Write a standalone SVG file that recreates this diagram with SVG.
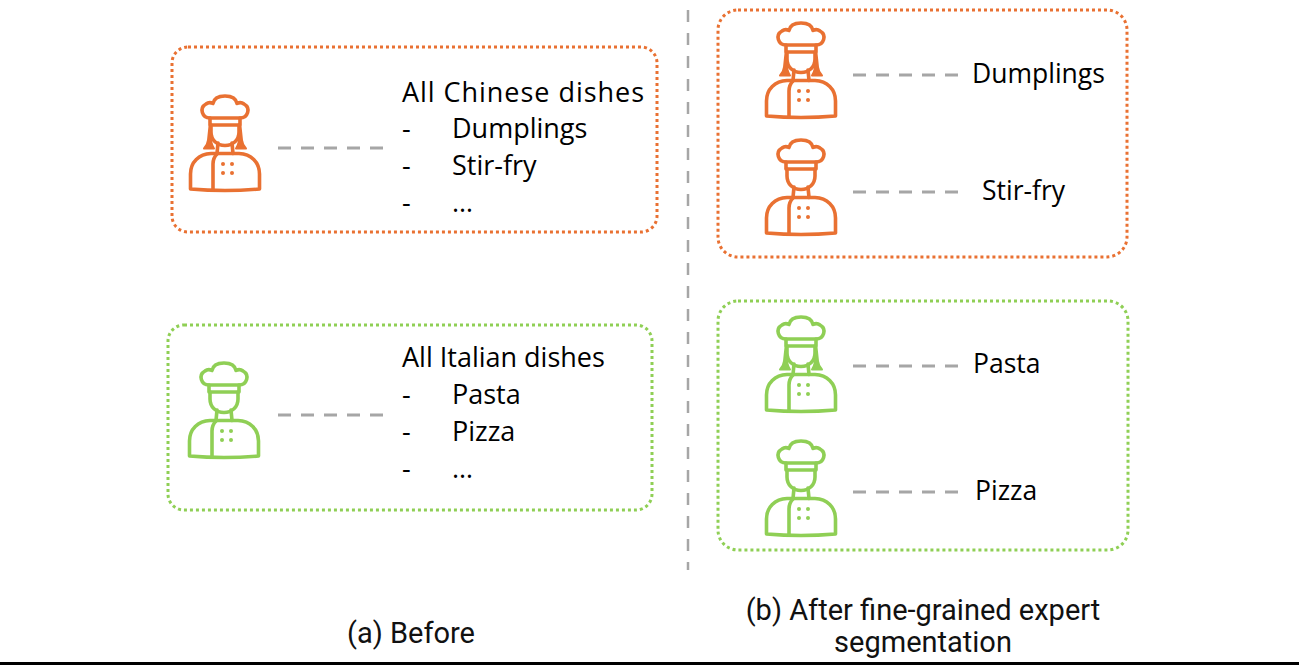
<svg xmlns="http://www.w3.org/2000/svg" xmlns:xlink="http://www.w3.org/1999/xlink" width="1299" height="665" viewBox="0 0 1299 665">
<style>
.box{fill:none;stroke-width:3;stroke-dasharray:3 3;}
.or{stroke:#E97132;}
.gr{stroke:#8FCF55;}
.conn{stroke:#A6A6A6;stroke-width:3;stroke-dasharray:13 10;fill:none;}
.t{font-family:"Open Sans","Noto Sans",sans-serif;font-size:27px;fill:#000;}
.tr{font-family:"Open Sans","Noto Sans",sans-serif;font-size:26.5px;fill:#000;}
.cap{font-family:Roboto,"Liberation Sans",sans-serif;font-size:29px;fill:#111;}
</style>
<defs>
<g id="chef-m" fill="none" stroke="currentColor" stroke-width="3.6" stroke-linejoin="round" stroke-linecap="round">
<path d="M21,22 C13,22 10,12 17,8 C19,6.5 22,6.5 24,7.5 C25,2 30,0 36,0 C42,0 47,2 48,7.5 C50,6.5 53,6.5 55,8 C62,12 59,22 51,22 Z"/>
<path d="M21,22 L21,29 L51,29 L51,22"/>
<path d="M22,29 L22,36 C22,44 28,49.5 36,49.5 C44,49.5 50,44 50,36 L50,29"/>
<path d="M29,47 L28,57.5 M43,47 L44,57.5"/>
<path d="M1.5,93 L1.5,78 C1.5,66 10,58 22,57.5 L50,57.5 C62,58 70.5,66 70.5,78 L70.5,93 Q36,96 1.5,93 Z"/>
<path d="M28,58 C25,61 24,64 24,68 L24,94"/>
<g fill="currentColor" stroke="none">
<circle cx="34" cy="68" r="2"/><circle cx="43" cy="68" r="2"/>
<circle cx="34" cy="77" r="2"/><circle cx="43" cy="77" r="2"/>
</g>
</g>
<g id="chef-f">
<use xlink:href="#chef-m"/>
<path d="M20.5,30 L19,44 C18.5,48 17,50.5 15,52.5 L25,52.5 C22.5,49 21.5,45 21.5,38 Z M51.5,30 L53,44 C53.5,48 55,50.5 57,52.5 L47,52.5 C49.5,49 50.5,45 50.5,38 Z" fill="currentColor" stroke="currentColor" stroke-width="2" stroke-linejoin="round"/>
</g>
</defs>
<rect width="1299" height="665" fill="#fff"/>

<g id="divider">
<line x1="688" y1="10" x2="688" y2="570" stroke="#A6A6A6" stroke-width="2.5" stroke-dasharray="12 11"/>
</g>

<g id="before-chinese">
<rect class="box or" x="172" y="47" width="485" height="185" rx="16"/>
<use xlink:href="#chef-f" x="189" y="96" style="color:#E97132"/>
<text class="t" x="402" y="102" textLength="242">All Chinese dishes</text>
<text class="t" x="402" y="138">-</text><text class="t" x="452" y="138">Dumplings</text>
<text class="t" x="402" y="175">-</text><text class="t" x="452" y="175">Stir-fry</text>
<text class="t" x="402" y="212">-</text><text class="t" x="452" y="212">…</text>
</g>

<g id="before-italian">
<rect class="box gr" x="168" y="325" width="484" height="185" rx="16"/>
<use xlink:href="#chef-m" x="188" y="363" style="color:#8FCF55"/>
<text class="t" x="402" y="367">All Italian dishes</text>
<text class="t" x="402" y="404">-</text><text class="t" x="452" y="404">Pasta</text>
<text class="t" x="402" y="441">-</text><text class="t" x="452" y="441">Pizza</text>
<text class="t" x="402" y="478">-</text><text class="t" x="452" y="478">…</text>
</g>

<g id="after-chinese">
<rect class="box or" x="718" y="10" width="409" height="247" rx="20"/>
<use xlink:href="#chef-f" x="765" y="23" style="color:#E97132"/>
<use xlink:href="#chef-m" x="765" y="140" style="color:#E97132"/>
<text class="tr" x="972" y="83">Dumplings</text>
<text class="tr" x="982" y="200">Stir-fry</text>
</g>

<g id="after-italian">
<rect class="box gr" x="718" y="301" width="410" height="249" rx="20"/>
<use xlink:href="#chef-f" x="765" y="317" style="color:#8FCF55"/>
<use xlink:href="#chef-m" x="765" y="441" style="color:#8FCF55"/>
<text class="tr" x="973" y="373">Pasta</text>
<text class="tr" x="975" y="500">Pizza</text>
</g>

<g id="connectors">
<line class="conn" x1="278" y1="148" x2="384" y2="148"/>
<line class="conn" x1="278" y1="415" x2="384" y2="415"/>
<line class="conn" x1="853" y1="75" x2="958" y2="75"/>
<line class="conn" x1="853" y1="192" x2="958" y2="192"/>
<line class="conn" x1="853" y1="366" x2="958" y2="366"/>
<line class="conn" x1="853" y1="492" x2="958" y2="492"/>
</g>

<g id="captions">
<text class="cap" x="347" y="643">(a) Before</text>
<text class="cap" x="923" y="620" text-anchor="middle">(b) After fine-grained expert</text>
<text class="cap" x="923" y="652" text-anchor="middle">segmentation</text>
</g>
<rect x="0" y="662" width="1299" height="3" fill="#000"/>
</svg>
